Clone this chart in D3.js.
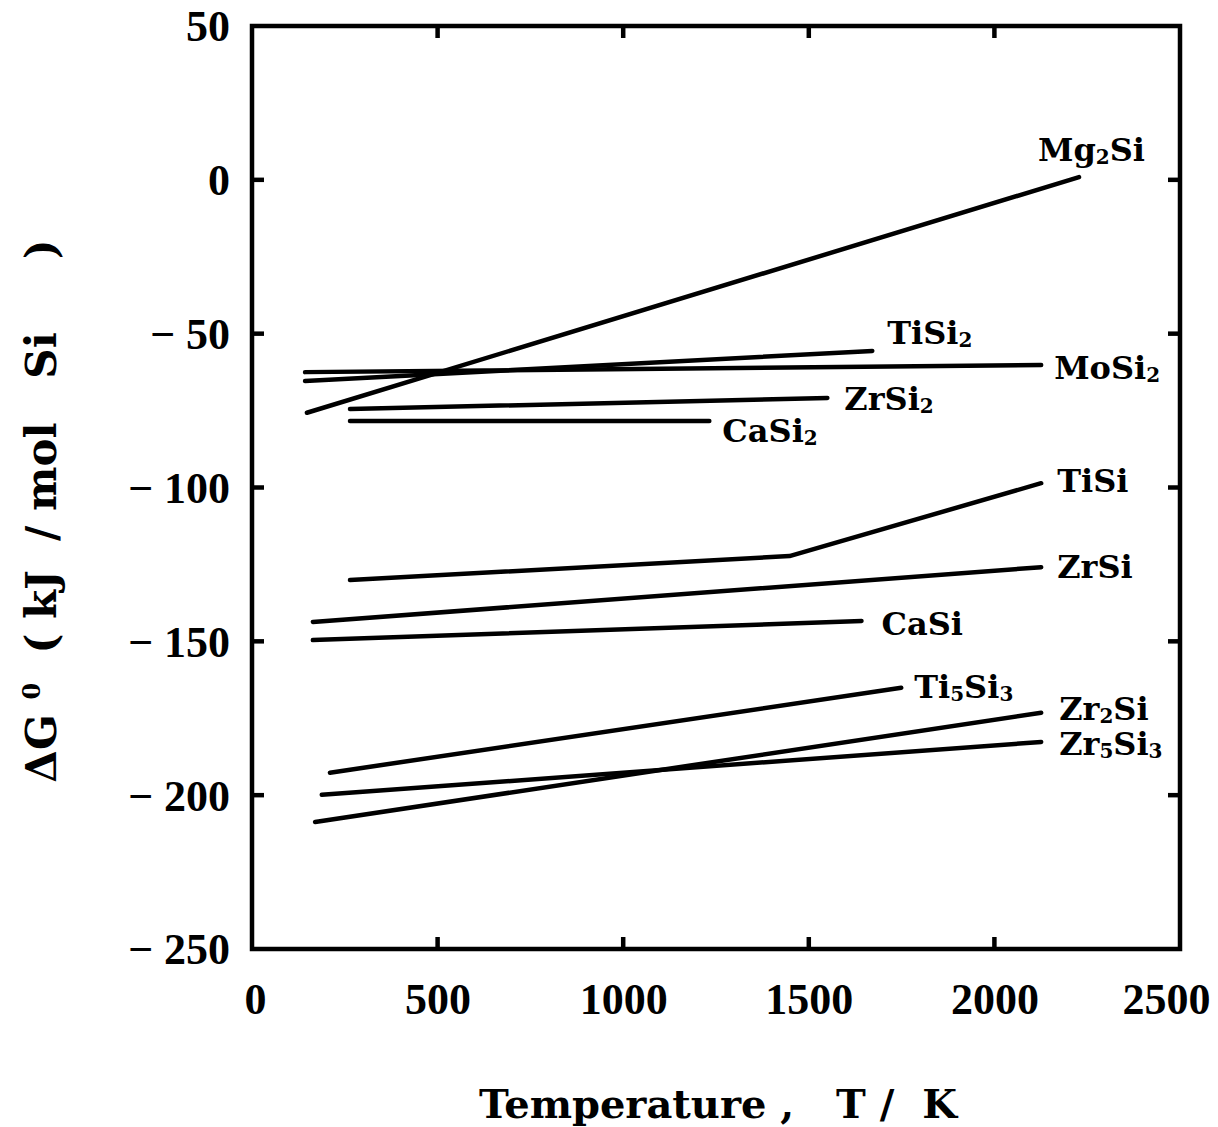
<!DOCTYPE html>
<html>
<head>
<meta charset="utf-8">
<script src="https://cdn.jsdelivr.net/npm/d3@7"></script>
<style>
  html, body { margin: 0; padding: 0; background: #fff; }
  svg { display: block; }
  .lbl { font-family: "DejaVu Serif", serif; font-weight: bold; font-size: 32px; fill: #000; }
  .tick text { font-family: "Liberation Serif", "Times New Roman", serif; font-weight: bold; font-size: 44px; fill: #000; }
  .title { font-family: "DejaVu Serif", serif; font-weight: bold; fill: #000; white-space: pre; }
</style>
</head>
<body>
<svg id="chart" width="1218" height="1127"></svg>
<script>
// ---- Data: [Temperature K, ΔG° kJ/mol Si] ----
const Mg2Si  = [[148, -75.7], [2228, 0.9]];
const TiSi2  = [[143, -65.4], [1671, -55.6]];
const MoSi2  = [[143, -62.5], [2126, -60.2]];
const ZrSi2  = [[264, -74.5], [1550, -70.9]];
const CaSi2  = [[264, -78.4], [1232, -78.4]];
const TiSi   = [[264, -130.1], [1448, -122.3], [2126, -98.6]];
const ZrSi   = [[164, -143.7], [2126, -125.9]];
const CaSi   = [[164, -149.6], [1642, -143.4]];
const Ti5Si3 = [[210, -192.7], [1749, -165.1]];
const Zr2Si  = [[170, -208.7], [2126, -173.2]];
const Zr5Si3 = [[188, -199.9], [2126, -182.7]];

const seriesNames = ["Mg2Si", "TiSi2", "MoSi2", "ZrSi2", "CaSi2", "TiSi", "ZrSi", "CaSi", "Ti5Si3", "Zr2Si", "Zr5Si3"];
const seriesData  = [Mg2Si, TiSi2, MoSi2, ZrSi2, CaSi2, TiSi, ZrSi, CaSi, Ti5Si3, Zr2Si, Zr5Si3];

const xDomain = [0, 2500];
const yDomain = [-250, 50];
const xTicks = [0, 500, 1000, 1500, 2000, 2500];
const yTicks = [50, 0, -50, -100, -150, -200, -250];

// ---- Layout ----
const svg = d3.select("#chart");
const pL = 252, pR = 1180, pT = 26, pB = 949;
const x = d3.scaleLinear().domain(xDomain).range([pL, pR]);
const y = d3.scaleLinear().domain(yDomain).range([pB, pT]);

const fmt = v => v < 0 ? "\u2212 " + Math.abs(v) : String(v);

// Tick labels (bottom, left)
const xAxis = d3.axisBottom(x).tickValues(xTicks).tickSize(0).tickPadding(0).tickFormat(d => d);
svg.append("g").attr("transform", `translate(0,${pB})`).call(xAxis)
  .call(g => g.select(".domain").remove())
  .call(g => g.selectAll("text").attr("dy", null).attr("y", 65)
    .attr("dx", d => d === xDomain[1] ? -14 : (d === xDomain[0] ? 3 : 0)));

const yAxis = d3.axisLeft(y).tickValues(yTicks).tickSize(0).tickPadding(0).tickFormat(fmt);
svg.append("g").attr("transform", `translate(${pL},0)`).call(yAxis)
  .call(g => g.select(".domain").remove())
  .call(g => g.selectAll("text").attr("x", -22).attr("dy", "0.34em"));

// Inward ticks on all four sides (interior values only)
const tl = 12;
const innerX = xTicks.slice(1, -1), innerY = yTicks.slice(1, -1);
const tickG = svg.append("g").attr("stroke", "#000").attr("stroke-width", 4.5);
innerX.forEach(v => {
  tickG.append("line").attr("x1", x(v)).attr("x2", x(v)).attr("y1", pB).attr("y2", pB - tl);
  tickG.append("line").attr("x1", x(v)).attr("x2", x(v)).attr("y1", pT).attr("y2", pT + tl);
});
innerY.forEach(v => {
  tickG.append("line").attr("y1", y(v)).attr("y2", y(v)).attr("x1", pL).attr("x2", pL + tl);
  tickG.append("line").attr("y1", y(v)).attr("y2", y(v)).attr("x1", pR).attr("x2", pR - tl);
});

// Frame
svg.append("rect").attr("x", pL).attr("y", pT)
  .attr("width", pR - pL).attr("height", pB - pT)
  .attr("fill", "none").attr("stroke", "#000").attr("stroke-width", 4.5);

// Lines
const line = d3.line().x(d => x(d[0])).y(d => y(d[1]));
svg.append("g").selectAll("path").data(seriesData).join("path")
  .attr("d", line).attr("fill", "none").attr("stroke", "#000")
  .attr("stroke-width", 4.5).attr("stroke-linecap", "round").attr("stroke-linejoin", "round");

// Labels placed relative to each line's end point
const labelOffsets = {
  Mg2Si: [-41, -16], TiSi2: [15, -7], MoSi2: [13, 14], ZrSi2: [17, 12], CaSi2: [13, 21],
  TiSi: [16, 9], ZrSi: [16, 11], CaSi: [20, 14], Ti5Si3: [13, 10], Zr2Si: [18, 7], Zr5Si3: [18, 13]
};
seriesNames.forEach((name, i) => {
  const pts = seriesData[i];
  const end = pts[pts.length - 1];
  const off = labelOffsets[name];
  const t = svg.append("text").attr("class", "lbl")
    .attr("x", x(end[0]) + off[0]).attr("y", y(end[1]) + off[1]);
  const parts = name.match(/[A-Za-z]+|\d+/g);
  let sub = false;
  parts.forEach(p => {
    const isNum = /\d/.test(p);
    const ts = t.append("tspan").text(p);
    if (isNum) { ts.attr("font-size", 20).attr("dy", 3); sub = true; }
    else if (sub) { ts.attr("dy", -3); sub = false; }
  });
});

// Axis titles
svg.append("text").attr("class", "title")
  .attr("x", 718).attr("y", 1118).attr("text-anchor", "middle")
  .attr("font-size", 40)
  .text("Temperature ,   T /  K");

const yt = svg.append("text").attr("class", "title")
  .attr("transform", "translate(56,511) rotate(-90)")
  .attr("text-anchor", "middle").attr("font-size", 42);
yt.append("tspan").text("\u0394G ");
yt.append("tspan").attr("font-size", 24).attr("dy", -16).text("0");
yt.append("tspan").attr("dy", 16).text("  ( kJ  / mol   Si     )");
</script>
</body>
</html>
